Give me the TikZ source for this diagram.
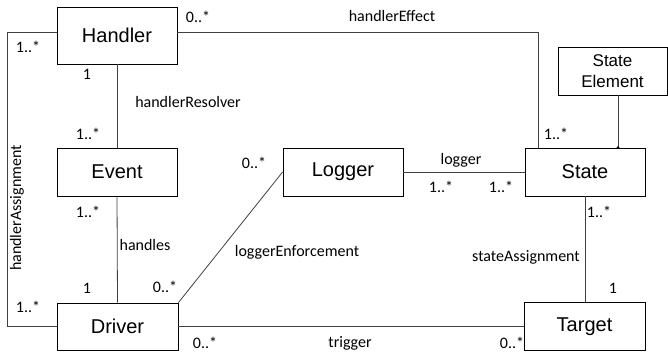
\documentclass[tikz,border=0pt]{standalone}
\usepackage{fontspec}
\setmainfont{Carlito}
\newfontfamily\boxfont{Liberation Sans}
\begin{document}
\begin{tikzpicture}[x=1pt,y=-1pt,
  cls/.style={draw,thick,fill=white,minimum width=120pt,minimum height=48pt,inner sep=0pt,font=\boxfont\fontsize{20}{22}\selectfont,align=center},
  lbl/.style={font=\fontsize{16}{18}\selectfont,inner sep=0pt},
  conn/.style={draw=black!75,line width=0.8pt}]
\useasboundingbox (0,0) rectangle (668,352);
\node[cls,minimum height=57pt] (Handler) at (117,35.5) {Handler};
\node[cls] (Event) at (117,172) {Event};
\node[cls,minimum height=47pt,minimum width=121pt] (Driver) at (117.5,326.5) {Driver};
\node[cls] (Logger) at (343,172) {Logger};
\node[cls] (State) at (585,172) {State};
\node[cls,minimum width=109pt,font=\boxfont\fontsize{17}{21}\selectfont] (StateElement) at (612.5,71) {State\\Element};
\node[cls,minimum width=121pt] (Target) at (584.5,326.5) {Target};
\coordinate (se) at (618,0);
\coordinate (he) at (538,0);
\draw[conn] ([yshift=3.5pt]Handler.east) -| (State.north -| he);
\draw[conn] ([yshift=3.5pt]Handler.west) -- ++(-49,0) |- (Driver.west);
\draw[conn] (Handler.south) -- (Event.north);
\draw[conn] (Event.south) -- (Driver.north);
\draw[conn] (Driver.north east) -- (Logger.west);
\draw[conn] (Logger.east) -- (State.west);
\draw[conn] (StateElement.south -| se) -- (State.north -| se);
\fill (State.north -| se) circle (1.5pt);
\draw[conn] (State.south) -- (State.south |- Target.north);
\draw[conn] (Driver.east) -- (Target.west);
% labels
\node[lbl] (l1) at (198,17) {0..*};
\node[lbl] (l2) at (392,16) {handlerEffect};
\node[lbl] (l3) at (28,47) {1..*};
\node[lbl] (l4) at (87,74) {1};
\node[lbl] (l5) at (188,102) {handlerResolver};
\node[lbl] (l6) at (88,134) {1..*};
\node[lbl] (l7) at (88,212) {1..*};
\node[lbl] (l8) at (145,245) {handles};
\node[lbl,rotate=90] (l9) at (17,208) {handlerAssignment};
\node[lbl] (l10) at (87,288) {1};
\node[lbl] (l11) at (28,307) {1..*};
\node[lbl] (l12) at (165,287) {0..*};
\node[lbl] (l13) at (254,163) {0..*};
\node[lbl] (l14) at (297,252) {loggerEnforcement};
\node[lbl] (l15) at (461,160) {logger};
\node[lbl] (l16) at (441,187) {1..*};
\node[lbl] (l17) at (501,187) {1..*};
\node[lbl] (l18) at (556,134) {1..*};
\node[lbl] (l19) at (599,212) {1..*};
\node[lbl] (l20) at (526,257) {stateAssignment};
\node[lbl] (l21) at (613,288) {1};
\node[lbl] (l22) at (205,343) {0..*};
\node[lbl] (l23) at (350,343) {trigger};
\node[lbl] (l24) at (512,343) {0..*};
\end{tikzpicture}
\end{document}
